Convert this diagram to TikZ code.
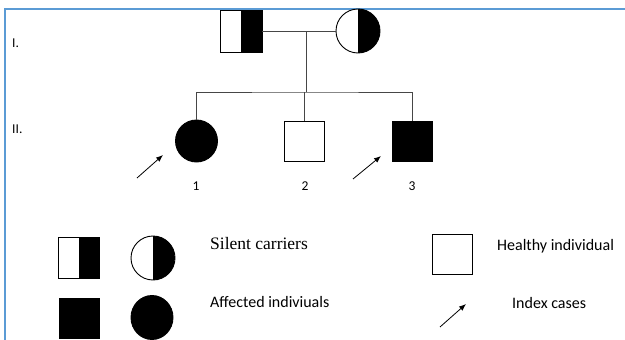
\documentclass[tikz,border=0pt]{standalone}
\usepackage{fontspec}
\setmainfont{Carlito}
\newfontfamily\serifA{Liberation Serif}
\usetikzlibrary{shapes.geometric,arrows.meta}
\definecolor{frameblue}{RGB}{91,155,213}
\definecolor{conngray}{RGB}{70,70,70}
\begin{document}
\begin{tikzpicture}[x=1pt,y=-1pt,
  base/.style={draw=black,line width=0.9pt,inner sep=0pt,fill=white},
  sqbox/.style={base,rectangle,minimum width=#1,minimum height=#1},
  sqbox/.default=42pt,
  circbox/.style={base,circle,minimum size=#1},
  circbox/.default=44pt,
  halfblack/.style={path picture={\fill[black] (path picture bounding box.north) rectangle (path picture bounding box.south east);}},
  solid black/.style={fill=black},
  conn/.style={draw=conngray,line width=1pt},
  idx/.style={draw=black,line width=0.8pt,-{Latex[length=7pt,width=5.5pt]}},
  lab/.style={inner sep=0pt,font=\fontsize{13.5}{15}\selectfont},
  legtxt/.style={inner sep=0pt,anchor=base west,font=\fontsize{16}{19}\selectfont}
]
\useasboundingbox (0,0) rectangle (625,340);
% frame
\draw[frameblue,line width=1.5pt] (5,340) -- (5,9) -- (625,9);

% generation labels
\node[lab,anchor=base west] (gI) at (12,47) {I.};
\node[lab,anchor=base west] (gII) at (12,133) {II.};

% generation I
\node[sqbox,halfblack] (father) at (241,31) {};
\node[circbox,halfblack] (mother) at (358,31) {};
\coordinate (mid) at (306,31);
\coordinate (sib) at (306,92);
\draw[conn] (father.east) -- (mother.west);
\draw[conn] (mid) -- (sib);

% generation II
\node[circbox=42pt,solid black] (c1) at (196.5,141) {};
\node[sqbox=40pt] (c2) at (304,141) {};
\node[sqbox=40pt,solid black] (c3) at (412,141) {};
\draw[conn] (c1.north) |- (sib) -| (c3.north);
\draw[conn] (c2.north) -- (c2.north |- sib);

% index arrows
\coordinate (a1s) at (137,178);
\coordinate (a1e) at (163,155);
\coordinate (a3s) at (353,179);
\coordinate (a3e) at (381,156);
\draw[idx] (a1s) -- (a1e);
\draw[idx] (a3s) -- (a3e);

% numbers
\node[lab,anchor=base] (n1) at (196,190) {1};
\node[lab,anchor=base] (n2) at (305,190) {2};
\node[lab,anchor=base] (n3) at (412,190) {3};

% legend
\node[sqbox=41pt,halfblack] (lsq) at (79,257.5) {};
\node[circbox=44pt,halfblack] (lci) at (153,258) {};
\node[legtxt,font=\serifA\fontsize{17.5}{20}\selectfont] (tsil) at (210,249) {Silent carriers};
\node[sqbox=40pt] (lhe) at (452.5,254) {};
\node[legtxt] (thea) at (497,250) {Healthy individual};
\node[sqbox=40pt,solid black] (laf) at (79.5,318) {};
\node[base,ellipse,solid black,minimum width=42pt,minimum height=44pt] (lel) at (152,317.5) {};
\node[legtxt] (taff) at (210,307) {Affected indiviuals};
\coordinate (ls) at (440,327);
\coordinate (le) at (466,304);
\draw[idx] (ls) -- (le);
\node[legtxt] (tidx) at (512,308) {Index cases};
\end{tikzpicture}
\end{document}
